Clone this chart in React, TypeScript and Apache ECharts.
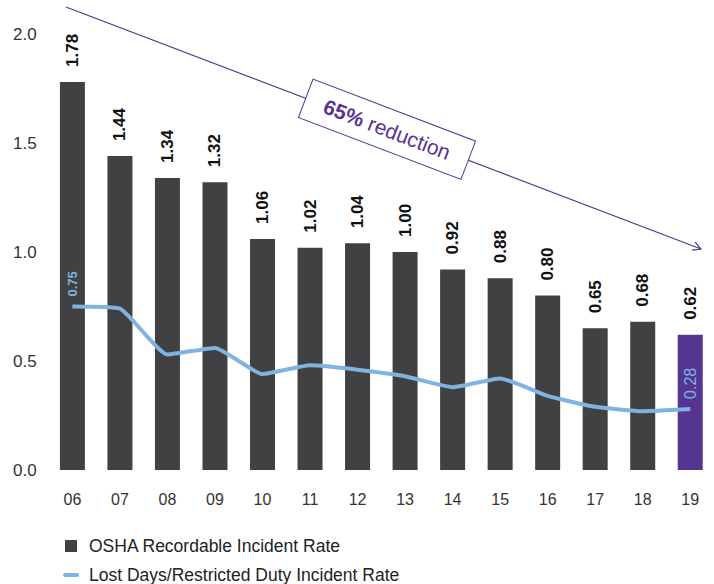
import React, { useEffect, useRef } from "react";
import * as echarts from "echarts";

const categories = ["06", "07", "08", "09", "10", "11", "12", "13", "14", "15", "16", "17", "18", "19"];
const oshaRates = [1.78, 1.44, 1.34, 1.32, 1.06, 1.02, 1.04, 1.0, 0.92, 0.88, 0.8, 0.65, 0.68, 0.62];
const lostDaysRates = [0.75, 0.74, 0.53, 0.56, 0.44, 0.48, 0.46, 0.43, 0.38, 0.42, 0.34, 0.29, 0.27, 0.28];
const yTicks = [0, 0.5, 1.0, 1.5, 2.0];
const seriesNames = ["OSHA Recordable Incident Rate", "Lost Days/Restricted Duty Incident Rate"];
const annotationBold = "65%";
const annotationRest = " reduction";

const BAR = "#414042";
const PURPLE = "#563592";
const BLUE = "#7eb3e2";
const FONT = "Liberation Sans, Arial, sans-serif";

export default function App() {
  const ref = useRef<HTMLDivElement>(null);
  useEffect(() => {
    if (!ref.current) return;
    const chart = echarts.init(ref.current, undefined, { renderer: "svg" });
    const last = categories.length - 1;

    // arrow geometry
    const x0 = 66, y0 = 7, x1 = 701, y1 = 249;
    const ang = Math.atan2(y1 - y0, x1 - x0);
    const ah = 9, spread = (28 * Math.PI) / 180;
    const a1 = [x1 - ah * Math.cos(ang - spread), y1 - ah * Math.sin(ang - spread)];
    const a2 = [x1 - ah * Math.cos(ang + spread), y1 - ah * Math.sin(ang + spread)];
    const cx = 387;
    const cy = y0 + ((cx - x0) * (y1 - y0)) / (x1 - x0);

    chart.setOption({
      animation: false,
      textStyle: { fontFamily: FONT },
      grid: { left: 48.65, width: 667.7, top: 34, bottom: 114, containLabel: false },
      legend: {
        orient: "vertical",
        left: 63,
        top: 537,
        padding: 0,
        itemWidth: 16,
        itemHeight: 12,
        itemGap: 11,
        selectedMode: false,
        textStyle: { fontSize: 17.5, color: "#222", fontFamily: FONT, padding: [0, 0, 0, 5], lineHeight: 16 },
        data: [
          { name: seriesNames[0], icon: "path://M0,0 L12,0 L12,12 L0,12 Z" },
          { name: seriesNames[1], icon: "path://M2,0 L14,0 A2,2 0 0 1 14,4 L2,4 A2,2 0 0 1 2,0 Z" },
        ],
      },
      xAxis: {
        type: "category",
        data: categories,
        axisLine: { show: false },
        axisTick: { show: false },
        axisLabel: { color: "#333", fontSize: 16, margin: 21, fontFamily: FONT },
      },
      yAxis: {
        type: "value",
        min: yTicks[0],
        max: yTicks[yTicks.length - 1],
        interval: 0.5,
        axisLine: { show: false },
        axisTick: { show: false },
        splitLine: { show: false },
        axisLabel: {
          color: "#333",
          fontSize: 17,
          margin: 12,
          fontFamily: FONT,
          formatter: (v: number) => v.toFixed(1),
        },
      },
      series: [
        {
          name: seriesNames[0],
          type: "bar",
          barWidth: 25,
          itemStyle: { color: BAR },
          data: oshaRates.map((v, i) => ({
            value: v,
            itemStyle: { color: i === last ? PURPLE : BAR },
          })),
          label: {
            show: true,
            position: "top",
            rotate: 90,
            align: "left",
            verticalAlign: "middle",
            distance: 15,
            fontSize: 17,
            fontWeight: "bold",
            color: "#111",
            fontFamily: FONT,
            formatter: (p: any) => Number(p.value).toFixed(2),
          },
        },
        {
          name: seriesNames[1],
          type: "line",
          smooth: 0.15,
          symbol: "circle",
          symbolSize: 0,
          showSymbol: true,
          lineStyle: { color: BLUE, width: 4 },
          itemStyle: { color: BLUE },
          z: 3,
          label: {
            show: false,
            position: "top",
            rotate: 90,
            align: "left",
            verticalAlign: "middle",
            distance: 10,
            color: BLUE,
            fontFamily: FONT,
            formatter: (p: any) => Number(p.value).toFixed(2),
          },
          data: lostDaysRates.map((v, i) => ({
            value: v,
            label: {
              show: i === 0 || i === last,
              fontSize: i === 0 ? 13 : 16,
              fontWeight: i === 0 ? "bold" : "normal",
            },
          })),
        },
      ],
      graphic: [
        {
          type: "polyline",
          shape: { points: [[x0, y0], [x1, y1]] },
          style: { stroke: PURPLE, lineWidth: 1.2, fill: null },
          z: 10,
        },
        {
          type: "polyline",
          shape: { points: [a1, [x1, y1], a2] },
          style: { stroke: PURPLE, lineWidth: 1.2, fill: null },
          z: 10,
        },
        {
          type: "group",
          x: cx,
          y: cy,
          rotation: -ang,
          z: 11,
          children: [
            {
              type: "rect",
              shape: { x: -87, y: -20.5, width: 174, height: 41 },
              style: { fill: "#fff", stroke: PURPLE, lineWidth: 1 },
              z: 11,
            },
            {
              type: "text",
              x: 0,
              y: 0,
              z: 12,
              style: {
                text: "{b|" + annotationBold + "}{n|" + annotationRest + "}",
                align: "center",
                verticalAlign: "middle",
                rich: {
                  b: { fontSize: 21, fontWeight: "bold", fill: PURPLE, fontFamily: FONT },
                  n: { fontSize: 21, fill: PURPLE, fontFamily: FONT },
                },
              },
            },
          ],
        },
      ],
    });
    return () => chart.dispose();
  }, []);
  return <div ref={ref} style={{ position: "absolute", left: 0, top: 0, width: 714, height: 584 }} />;
}
